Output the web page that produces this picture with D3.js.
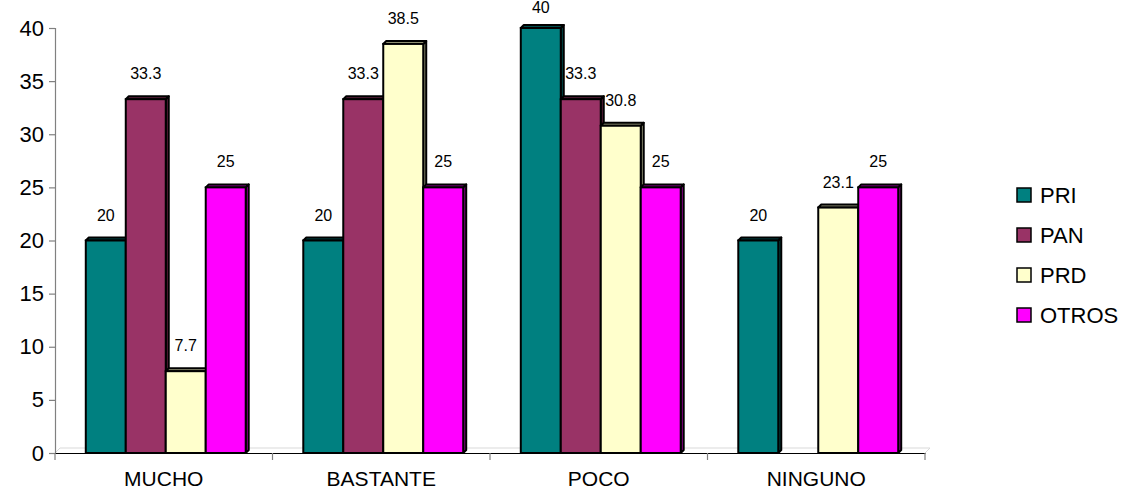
<!DOCTYPE html>
<html><head><meta charset="utf-8">
<script src="https://cdn.jsdelivr.net/npm/d3@7"></script>
<style>html,body{margin:0;padding:0;background:#fff;} svg{display:block;}</style>
</head><body>
<svg id="chart" width="1126" height="492"></svg>
<script>
const categories = ["MUCHO", "BASTANTE", "POCO", "NINGUNO"];
const seriesNames = ["PRI", "PAN", "PRD", "OTROS"];
const PRI   = [20, 20, 40, 20];
const PAN   = [33.3, 33.3, 33.3, null];
const PRD   = [7.7, 38.5, 30.8, 23.1];
const OTROS = [25, 25, 25, 25];
const yTicks = [0, 5, 10, 15, 20, 25, 30, 35, 40];
const colors = ["#008080", "#993366", "#FFFFCC", "#FF00FF"];
const sideColors = ["#004d4d", "#5c1f3d", "#99997a", "#990099"];

(function () {
const seriesValues = [PRI, PAN, PRD, OTROS];
const svg = d3.select("#chart");
const font = "'Liberation Sans', Arial, sans-serif";

const pLeft = 55, pRight = 925, pTop = 28, pBottom = 453;
const D = 5;   // floor depth
const d = 3;   // bar depth

const x0 = d3.scaleBand().domain(categories).range([pLeft, pRight]).padding(0);
const x1 = d3.scaleBand().domain(seriesNames).range([0, x0.bandwidth()]).paddingInner(0).paddingOuter(0.72);
const y = d3.scaleLinear().domain([0, 40]).range([pBottom, pTop]);

// floor back edge
svg.append("path")
  .attr("d", `M${pLeft},${pBottom} L${pLeft+D},${pBottom-D} L${pRight+D},${pBottom-D} L${pRight},${pBottom}`)
  .attr("fill", "none").attr("stroke", "#d9d9d9").attr("stroke-width", 1);

// y axis
const yAxis = svg.append("g").attr("transform", `translate(${pLeft},0)`)
  .call(d3.axisLeft(y).tickValues(yTicks).tickSize(6).tickPadding(5));
yAxis.select(".domain").attr("stroke", "#808080").attr("stroke-width", 1.2);
yAxis.selectAll(".tick line").attr("stroke", "#808080").attr("stroke-width", 1.2);
yAxis.selectAll("text").attr("font-family", font).attr("font-size", 22).attr("fill", "#000");

// x axis
const xAxis = svg.append("g").attr("transform", `translate(0,${pBottom})`)
  .call(d3.axisBottom(x0).tickSize(0).tickPadding(18));
xAxis.select(".domain").attr("stroke", "#000").attr("stroke-width", 1.2);
xAxis.selectAll("text").attr("font-family", font).attr("font-size", 21).attr("fill", "#000");
// category separator ticks
const seps = categories.map(c => x0(c)).concat([pRight]);
svg.append("g").selectAll("line").data(seps).join("line")
  .attr("x1", v => v).attr("x2", v => v).attr("y1", pBottom).attr("y2", pBottom + 7)
  .attr("stroke", "#808080").attr("stroke-width", 1.2);

// bars
const barsG = svg.append("g");
categories.forEach((cat, ci) => {
  seriesNames.forEach((s, si) => {
    const v = seriesValues[si][ci];
    if (v === null || v === undefined) return;
    const bx = x0(cat) + x1(s) + 2;
    const bw = x1.bandwidth();
    const by = y(v), bb = y(0);
    const g = barsG.append("g");
    g.append("path")
      .attr("d", `M${bx+bw},${by} L${bx+bw+d},${by-d} L${bx+bw+d},${bb-d} L${bx+bw},${bb} Z`)
      .attr("fill", sideColors[si]).attr("stroke", "#000").attr("stroke-width", 2).attr("stroke-linejoin", "round");
    g.append("path")
      .attr("d", `M${bx},${by} L${bx+d},${by-d} L${bx+bw+d},${by-d} L${bx+bw},${by} Z`)
      .attr("fill", sideColors[si]).attr("stroke", "#000").attr("stroke-width", 2).attr("stroke-linejoin", "round");
    g.append("rect")
      .attr("x", bx).attr("y", by).attr("width", bw).attr("height", bb - by)
      .attr("fill", colors[si]).attr("stroke", "#000").attr("stroke-width", 2);
  });
});

// data labels
const labelsG = svg.append("g");
categories.forEach((cat, ci) => {
  seriesNames.forEach((s, si) => {
    const v = seriesValues[si][ci];
    if (v === null || v === undefined) return;
    labelsG.append("text")
      .attr("x", x0(cat) + x1(s) + 2 + x1.bandwidth() / 2)
      .attr("y", Math.max(y(v) - 20, 13))
      .attr("text-anchor", "middle")
      .attr("font-family", font).attr("font-size", 16).attr("fill", "#000")
      .text(String(v));
  });
});

// legend
const legend = svg.append("g").attr("transform", "translate(1017,188)");
seriesNames.forEach((s, i) => {
  const g = legend.append("g").attr("transform", `translate(0,${i * 40})`);
  g.append("rect").attr("x", 0).attr("y", 0).attr("width", 14).attr("height", 14)
    .attr("fill", colors[i]).attr("stroke", "#000").attr("stroke-width", 1.5);
  g.append("text").attr("x", 23).attr("y", 14.5)
    .attr("font-family", font).attr("font-size", 22).attr("fill", "#000").text(s);
});
})();
</script>
</body></html>
